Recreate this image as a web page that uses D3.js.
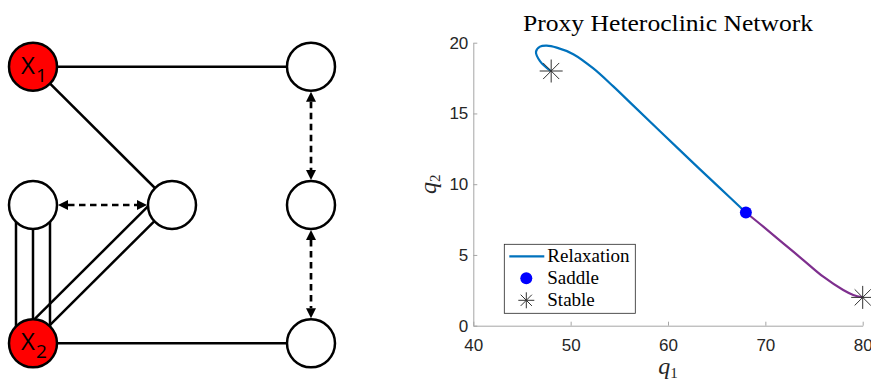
<!DOCTYPE html>
<html>
<head>
<meta charset="utf-8">
<script src="https://cdn.jsdelivr.net/npm/d3@7"></script>
<style>
  body { margin: 0; background: #fff; }
  svg { display: block; }
</style>
</head>
<body>
<svg id="chart" width="871" height="379"></svg>
<script>
// ---- network diagram (left) ----
const nodeNames = ["x1", "tr", "ml", "mc", "mr", "x2", "br"];
const nodeCol = [0, 2, 0, 1, 2, 0, 2];
const nodeRow = [0, 0, 1, 1, 1, 2, 2];
const nodeRed = [true, false, false, false, false, true, false];
const nodeSub = ["1", "", "", "", "", "2", ""];

const edgeFrom = ["x1", "x1", "ml", "mc", "x2"];
const edgeTo = ["tr", "mc", "x2", "x2", "br"];
const edgeOffsets = [[0], [0], [-17, 0, 17], [1, 16], [0]];

const arrowFrom = ["ml", "tr", "mr"];
const arrowTo = ["mc", "mr", "br"];

// ---- phase plot (right) ----
const relaxQ1 = [47.95, 46.85, 46.44, 46.85, 47.54, 48.57, 50.27, 52.33, 54.38, 56.44, 59.18, 62.26, 65.34, 68];
const relaxQ2 = [18.0, 18.7, 19.36, 19.72, 19.79, 19.65, 19.19, 18.18, 16.91, 15.55, 13.74, 11.72, 9.72, 8];
const escapeQ1 = [68, 69.79, 71.84, 73.9, 75.95, 78.0, 79.03, 80];
const escapeQ2 = [8, 7.0, 5.82, 4.64, 3.46, 2.52, 2.17, 2.0];
const saddleQ1 = [68];
const saddleQ2 = [8];
const stableQ1 = [48, 80];
const stableQ2 = [18, 2];
const xTicks = [40, 50, 60, 70, 80];
const yTicks = [0, 5, 10, 15, 20];
const legendLabels = ["Relaxation", "Saddle", "Stable"];

const svg = d3.select("#chart");

// network
const colX = d3.scaleLinear().domain([0, 2]).range([33, 311]);
const rowY = d3.scaleLinear().domain([0, 2]).range([66.7, 343.3]);
const R = 24;

const nodes = nodeNames.map((n, i) => ({
    name: n, x: colX(nodeCol[i]), y: rowY(nodeRow[i]), red: nodeRed[i], sub: nodeSub[i]
}));
const byName = {};
nodes.forEach(n => byName[n.name] = n);

const net = svg.append("g");

const defs = svg.append("defs");
defs.append("marker")
    .attr("id", "arrow")
    .attr("viewBox", "0 0 10 10")
    .attr("refX", 0).attr("refY", 5)
    .attr("markerWidth", 10).attr("markerHeight", 10)
    .attr("markerUnits", "userSpaceOnUse")
    .attr("orient", "auto-start-reverse")
    .append("path")
    .attr("d", "M0,0 L10,5 L0,10 z")
    .attr("fill", "#000");

// solid edges, possibly several parallel strands
const strands = [];
edgeFrom.forEach((f, i) => {
    const a = byName[f], b = byName[edgeTo[i]];
    const dx = b.x - a.x, dy = b.y - a.y, len = Math.hypot(dx, dy);
    const nx = dy / len, ny = -dx / len;
    edgeOffsets[i].forEach(o => strands.push({
        x1: a.x - nx * o, y1: a.y - ny * o, x2: b.x - nx * o, y2: b.y - ny * o
    }));
});

net.selectAll(".edge")
    .data(strands)
    .enter().append("line")
    .attr("class", "edge")
    .attr("x1", d => d.x1).attr("y1", d => d.y1)
    .attr("x2", d => d.x2).attr("y2", d => d.y2)
    .attr("stroke", "#000")
    .attr("stroke-width", 2.5);

// dashed double-headed arrows
const arrows = arrowFrom.map((f, i) => {
    const a = byName[f], b = byName[arrowTo[i]];
    const dx = b.x - a.x, dy = b.y - a.y, len = Math.hypot(dx, dy);
    const ux = dx / len, uy = dy / len, gap = R + 1 + 10;
    return { x1: a.x + ux * gap, y1: a.y + uy * gap, x2: b.x - ux * gap, y2: b.y - uy * gap };
});

net.selectAll(".arrow")
    .data(arrows)
    .enter().append("line")
    .attr("class", "arrow")
    .attr("x1", d => d.x1).attr("y1", d => d.y1)
    .attr("x2", d => d.x2).attr("y2", d => d.y2)
    .attr("stroke", "#000")
    .attr("stroke-width", 2.7)
    .attr("stroke-dasharray", "6.5,4.5")
    .attr("marker-start", "url(#arrow)")
    .attr("marker-end", "url(#arrow)");

net.selectAll(".node")
    .data(nodes)
    .enter().append("circle")
    .attr("class", "node")
    .attr("cx", d => d.x).attr("cy", d => d.y)
    .attr("r", R)
    .attr("fill", d => d.red ? "#ff0000" : "#fff")
    .attr("stroke", "#000")
    .attr("stroke-width", 2.5);

const lbl = net.selectAll(".nlabel")
    .data(nodes.filter(d => d.sub))
    .enter().append("text")
    .attr("class", "nlabel")
    .attr("x", d => d.x - 12)
    .attr("y", d => d.y + 7)
    .attr("font-family", "'Open Sans', 'Liberation Sans', sans-serif")
    .attr("fill", "#000");
lbl.append("tspan").attr("font-size", 24).text("X");
lbl.append("tspan").attr("font-size", 19).attr("dy", 8).attr("dx", 1).text(d => d.sub);

// plot
const x = d3.scaleLinear().domain([40, 80]).range([473.3, 862.7]);
const y = d3.scaleLinear().domain([0, 20]).range([325.7, 42.7]);
const plot = svg.append("g");

const xAxis = plot.append("g")
    .attr("transform", "translate(0," + y(0) + ")")
    .call(d3.axisBottom(x).tickValues(xTicks).tickSizeInner(-4).tickSizeOuter(0).tickPadding(13));
const yAxis = plot.append("g")
    .attr("transform", "translate(" + x(40) + ",0)")
    .call(d3.axisLeft(y).tickValues(yTicks).tickSizeInner(-4).tickSizeOuter(0).tickPadding(5));

[xAxis, yAxis].forEach(g => {
    g.select(".domain").attr("stroke", "#a6a6a6").attr("stroke-width", 1);
    g.selectAll(".tick line").attr("stroke", "#a6a6a6");
    g.selectAll(".tick text")
        .attr("fill", "#262626")
        .style("font-family", "'Liberation Sans', Arial, sans-serif")
        .style("font-size", "17px");
});

const line = d3.line()
    .x(d => x(d[0]))
    .y(d => y(d[1]))
    .curve(d3.curveCatmullRom.alpha(0.5));

plot.append("path")
    .datum(relaxQ1.map((v, i) => [v, relaxQ2[i]]))
    .attr("d", line)
    .attr("fill", "none")
    .attr("stroke", "#0072bd")
    .attr("stroke-width", 2.2);

plot.append("path")
    .datum(escapeQ1.map((v, i) => [v, escapeQ2[i]]))
    .attr("d", line)
    .attr("fill", "none")
    .attr("stroke", "#7e2f8e")
    .attr("stroke-width", 2.2);

function starPath(s) {
    const d = s * 0.7;
    return `M0,${-s}V${s}M${-s},0H${s}M${-d},${-d}L${d},${d}M${d},${-d}L${-d},${d}`;
}

plot.selectAll(".stable")
    .data(stableQ1.map((v, i) => [v, stableQ2[i]]))
    .enter().append("path")
    .attr("class", "stable")
    .attr("transform", d => "translate(" + x(d[0]) + "," + y(d[1]) + ")")
    .attr("d", starPath(11.5))
    .attr("fill", "none")
    .attr("stroke", "#333")
    .attr("stroke-width", 1);

plot.selectAll(".saddle")
    .data(saddleQ1.map((v, i) => [v, saddleQ2[i]]))
    .enter().append("circle")
    .attr("class", "saddle")
    .attr("cx", d => x(d[0])).attr("cy", d => y(d[1]))
    .attr("r", 6)
    .attr("fill", "#0000ff");

// title and axis labels
const serif = "'Liberation Serif', 'Times New Roman', serif";
plot.append("text")
    .attr("x", (x(40) + x(80)) / 2)
    .attr("y", 31)
    .attr("text-anchor", "middle")
    .attr("font-family", serif)
    .attr("font-size", 23)
    .attr("textLength", 290)
    .attr("lengthAdjust", "spacingAndGlyphs")
    .attr("fill", "#000")
    .text("Proxy Heteroclinic Network");

const xl = plot.append("text")
    .attr("x", (x(40) + x(80)) / 2)
    .attr("y", 374)
    .attr("text-anchor", "middle")
    .attr("font-family", serif)
    .attr("fill", "#262626");
xl.append("tspan").attr("font-size", 24).attr("font-style", "italic").text("q");
xl.append("tspan").attr("font-size", 15).attr("dy", 4).text("1");

const yl = plot.append("text")
    .attr("transform", "translate(436," + (y(0) + y(20)) / 2 + ") rotate(-90)")
    .attr("text-anchor", "middle")
    .attr("font-family", serif)
    .attr("fill", "#262626");
yl.append("tspan").attr("font-size", 24).attr("font-style", "italic").text("q");
yl.append("tspan").attr("font-size", 15).attr("dy", 4).text("2");

// legend
const leg = plot.append("g").attr("transform", "translate(504.3,244.3)");
leg.append("rect")
    .attr("width", 131).attr("height", 69)
    .attr("fill", "#fff")
    .attr("stroke", "#262626")
    .attr("stroke-width", 0.8);

const rowYs = [12, 34, 56];
leg.append("line")
    .attr("x1", 5).attr("x2", 40)
    .attr("y1", rowYs[0]).attr("y2", rowYs[0])
    .attr("stroke", "#0072bd").attr("stroke-width", 2.2);
leg.append("circle")
    .attr("cx", 22).attr("cy", rowYs[1]).attr("r", 6)
    .attr("fill", "#0000ff");
leg.append("path")
    .attr("transform", "translate(22," + rowYs[2] + ")")
    .attr("d", starPath(8))
    .attr("fill", "none").attr("stroke", "#333").attr("stroke-width", 1);

leg.selectAll(".ltext")
    .data(legendLabels)
    .enter().append("text")
    .attr("class", "ltext")
    .attr("x", 43)
    .attr("y", (d, i) => rowYs[i] + 6)
    .attr("font-family", serif)
    .attr("font-size", 19)
    .attr("fill", "#000")
    .text(d => d);
</script>
</body>
</html>
